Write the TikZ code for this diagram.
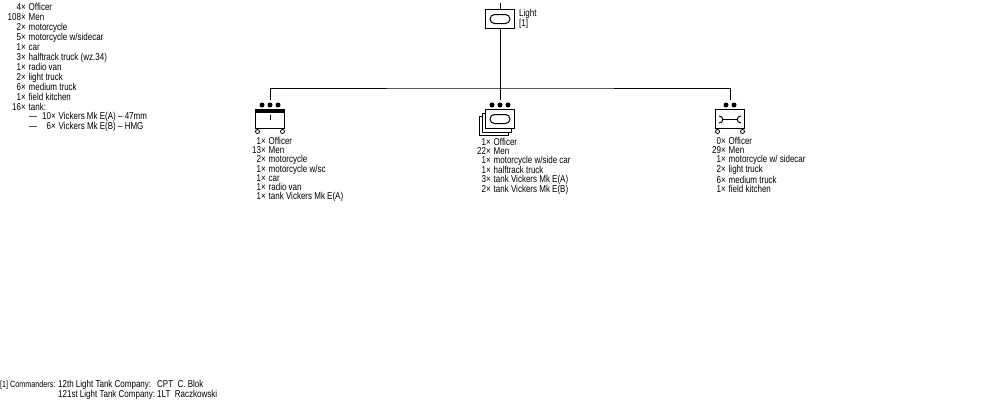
\documentclass[tikz,border=0pt]{standalone}
\usepackage{fontspec}
\setmainfont[FakeStretch=0.8]{Liberation Sans}
\usetikzlibrary{shapes.misc}
\newcommand{\strength}[2]{\makebox[25.5pt][r]{#1×}\hspace{3pt}#2}
\newcommand{\tankdash}{\makebox[0pt][l]{\hspace{-1pt}—}}
\tikzset{
  listbox/.style={anchor=north west,inner sep=0pt,align=left,font=\fontsize{10}{9}\selectfont},
  listwide/.style={anchor=north west,inner sep=0pt,align=left,font=\fontsize{10}{10}\selectfont},
  unitbox/.style={draw=black,line width=1pt,fill=white,minimum width=29pt,minimum height=19pt,inner sep=0pt},
  oval/.style={draw=black,line width=1pt,rounded rectangle,minimum width=20pt,minimum height=9pt,inner sep=0pt},
  dot/.style={circle,fill=black,inner sep=0pt,minimum size=5pt},
  wheel/.style={circle,draw=black,line width=.8pt,fill=white,inner sep=0pt,minimum size=4pt},
  link/.style={draw=black,line width=1pt}
}
\begin{document}
\begin{tikzpicture}[x=1pt,y=-1pt]
\useasboundingbox (0,0) rectangle (1000,400);
% company symbol:
\node[unitbox] (light) at (500,19) {};
\node[oval] (lightoval) at (light) {};
\coordinate (lighttop) at (500,3);
\coordinate (bus) at (500,88);
\draw[link] (lighttop) -- (light.north);
\draw[link] (light.south) -- (bus);
\node[listwide] (lightlabel) at (519,9.5) {Light\\{[1]}};
% bus and drops:
\coordinate (staffdrop) at (270,100);
\coordinate (platoondrop) at (500,100);
\coordinate (maintdrop) at (730,100);
\draw[link] (staffdrop) |- (bus) -| (maintdrop);
\draw[link] (bus) -- (platoondrop);
% staff:
\node[unitbox] (staff) at (270,119) {};
\fill[black] (staff.north west) rectangle ([yshift=-4pt]staff.north east);
\coordinate (stafftick) at (270,115);
\coordinate (stafftickend) at (270,120);
\draw[link] (stafftick) -- (stafftickend);
\node[dot] (staffa) at (262,105) {};
\node[dot] (staffb) at (270,105) {};
\node[dot] (staffc) at (278,105) {};
\node[wheel] (staffwl) at (257.5,131.5) {};
\node[wheel] (staffwr) at (282.5,131.5) {};
% platoons, back to front:
\node[unitbox] (platoonc) at (494,126) {};
\node[unitbox] (platoonb) at (497,122.5) {};
\node[unitbox] (platoon) at (500,119) {};
\node[oval] (platoonoval) at (platoon) {};
\node[dot] (platoona) at (492,105) {};
\node[dot] (platoonm) at (500,105) {};
\node[dot] (platoond) at (508,105) {};
% maintenance:
\node[unitbox] (maint) at (730,119) {};
\draw[line width=1pt] (719,116) .. controls (724,116) and (724,123) .. (719,123);
\draw[line width=1pt] (741,116) .. controls (736,116) and (736,123) .. (741,123);
\draw[line width=1pt] (723,119.5) -- (737,119.5);
\node[dot] (mainta) at (726,105) {};
\node[dot] (maintb) at (734,105) {};
\node[wheel] (maintwl) at (717.5,131.5) {};
\node[wheel] (maintwr) at (742.5,131.5) {};
% strength lists:
\node[listwide] (totals) at (0,3.5) {\strength{4}{Officer}\\\strength{108}{Men}\\\strength{2}{motorcycle}\\
  \strength{5}{motorcycle w/sidecar}\\\strength{1}{car}\\\strength{3}{halftrack truck (wz.34)}\\
  \strength{1}{radio van}\\\strength{2}{light truck}\\\strength{6}{medium truck}\\
  \strength{1}{field kitchen}\\\strength{16}{tank:}};
\node[listbox] (tanks) at (30,112) {\tankdash\strength{10}{Vickers Mk E(A) – 47mm}\\\tankdash\strength{6}{Vickers Mk E(B) – HMG}};
\node[listbox] (stafflist) at (240,137) {\strength{1}{Officer}\\\strength{13}{Men}\\\strength{2}{motorcycle}\\
  \strength{1}{motorcycle w/sc}\\\strength{1}{car}\\\strength{1}{radio van}\\\strength{1}{tank Vickers Mk E(A)}};
\node[listbox] (platoonlist) at (465,137.6) {\strength{1}{Officer}\\\strength{22}{Men}\\\strength{1}{motorcycle w/side car}\\
  \strength{1}{halftrack truck}\\\strength{3}{tank Vickers Mk E(A)}\\\strength{2}{tank Vickers Mk E(B)}};
\node[listbox] (maintlist) at (700,137) {\strength{0}{Officer}\\\strength{29}{Men}\\\strength{1}{motorcycle w/ sidecar}\\
  \strength{2}{light truck}\\\strength{6}{medium truck}\\\strength{1}{field kitchen}};
% note under the chart:
\node[listwide,font=\fontsize{9}{10}\selectfont] (notelead) at (0,380.5) {{[1]} Commanders:};
\node[listwide] (noteunits) at (58,380) {12th Light Tank Company:\\121st Light Tank Company:};
\node[listwide] (notenames) at (157,380) {CPT\ \ C. Blok\\1LT\ \ Raczkowski};
\end{tikzpicture}
\end{document}
